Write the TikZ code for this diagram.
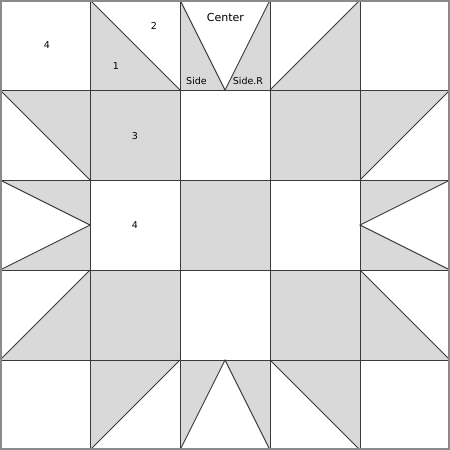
\documentclass[tikz,border=0pt]{standalone}
\usepackage{fontspec}
\setmainfont{DejaVu Sans}
\definecolor{patch}{HTML}{D9D9D9}
\definecolor{seam}{HTML}{3A3A3A}
\definecolor{edge}{HTML}{8A8A8A}
\begin{document}
\begin{tikzpicture}[x=1pt,y=-1pt,
  graypatch/.style={fill=patch,draw=none},
  seamline/.style={draw=seam,line width=0.9pt},
  lbl/.style={font=\fontsize{9.5}{11}\selectfont,text=black,inner sep=0pt},
  biglbl/.style={font=\fontsize{11}{13}\selectfont,text=black,inner sep=0pt}]
\useasboundingbox (0,0) rectangle (450,450);
\fill[white] (0,0) rectangle (450,450);
% gray patches
\path[graypatch] (90,0) -- (180,90) -- (90,90) -- cycle;
\path[graypatch] (180,0) -- (225,90) -- (180,90) -- cycle;
\path[graypatch] (270,0) -- (270,90) -- (225,90) -- cycle;
\path[graypatch] (360,0) -- (360,90) -- (270,90) -- cycle;
\path[graypatch] (0,90) -- (90,90) -- (90,180) -- cycle;
\path[graypatch] (90,90) rectangle (180,180);
\path[graypatch] (270,90) rectangle (360,180);
\path[graypatch] (360,90) -- (450,90) -- (360,180) -- cycle;
\path[graypatch] (0,180) -- (90,180) -- (90,225) -- cycle;
\path[graypatch] (0,270) -- (90,270) -- (90,225) -- cycle;
\path[graypatch] (180,180) rectangle (270,270);
\path[graypatch] (360,180) -- (450,180) -- (360,225) -- cycle;
\path[graypatch] (360,225) -- (360,270) -- (450,270) -- cycle;
\path[graypatch] (90,270) -- (90,360) -- (0,360) -- cycle;
\path[graypatch] (90,270) rectangle (180,360);
\path[graypatch] (270,270) rectangle (360,360);
\path[graypatch] (360,270) -- (360,360) -- (450,360) -- cycle;
\path[graypatch] (90,360) -- (180,360) -- (90,450) -- cycle;
\path[graypatch] (180,360) -- (225,360) -- (180,450) -- cycle;
\path[graypatch] (225,360) -- (270,360) -- (270,450) -- cycle;
\path[graypatch] (270,360) -- (360,360) -- (360,450) -- cycle;
% grid seams
\foreach \k in {90,180,270,360} {
  \draw[seamline] (\k,0) -- (\k,450);
  \draw[seamline] (0,\k) -- (450,\k);
}
% diagonal seams
\draw[seamline] (90,0) -- (180,90);
\draw[seamline] (180,0) -- (225,90) -- (270,0);
\draw[seamline] (270,90) -- (360,0);
\draw[seamline] (0,90) -- (90,180);
\draw[seamline] (360,180) -- (450,90);
\draw[seamline] (0,180) -- (90,225) -- (0,270);
\draw[seamline] (450,180) -- (360,225) -- (450,270);
\draw[seamline] (0,360) -- (90,270);
\draw[seamline] (360,270) -- (450,360);
\draw[seamline] (90,450) -- (180,360);
\draw[seamline] (180,450) -- (225,360) -- (270,450);
\draw[seamline] (270,360) -- (360,450);
% outer border
\draw[draw=edge,line width=2pt] (1,1) rectangle (449,449);
% labels
\node[lbl] (four1) at (47,45.5) {4};
\node[lbl] (two) at (154,25.5) {2};
\node[lbl] (one) at (116,66.5) {1};
\node[biglbl] (center) at (225.5,17.5) {Center};
\node[lbl] (side) at (196.5,80.5) {Side};
\node[lbl] (sider) at (248,80.5) {Side.R};
\node[lbl] (three) at (135,136) {3};
\node[lbl] (four2) at (135,225.5) {4};
\end{tikzpicture}
\end{document}
